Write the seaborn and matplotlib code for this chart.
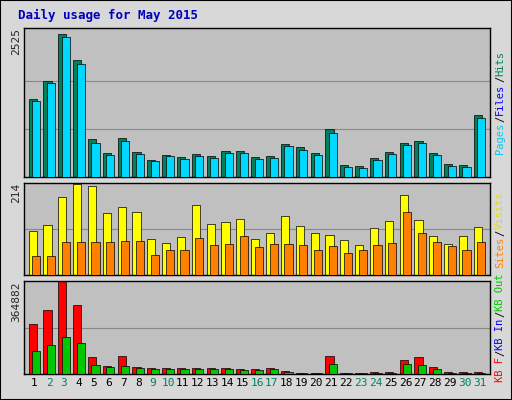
import matplotlib
matplotlib.use("Agg")
import matplotlib.pyplot as plt
import numpy as np
import seaborn as sns

sns.set_style("white")
plt.rcParams["font.family"] = ["DejaVu Sans Mono"]

days = np.arange(1, 32)
weekend = [2, 3, 9, 10, 16, 17, 23, 24, 30, 31]
hits = [1356, 1678, 2491, 2050, 660, 424, 678, 440, 305, 390, 356, 407, 373, 458, 458,
        356, 373, 576, 525, 424, 830, 203, 186, 339, 440, 593, 627, 424, 220, 203, 1085]
pages = [1320, 1640, 2440, 1980, 600, 380, 630, 410, 280, 360, 320, 370, 340, 420, 420,
         320, 340, 540, 480, 390, 760, 170, 160, 300, 400, 560, 590, 380, 190, 180, 1030]
visits = [102, 116, 181, 212, 207, 144, 158, 147, 84, 74, 88, 163, 119, 123, 130,
          84, 98, 137, 114, 98, 93, 81, 70, 109, 126, 186, 128, 91, 72, 91, 112]
sites = [44, 44, 77, 77, 77, 77, 79, 79, 47, 58, 58, 86, 70, 72, 91,
         65, 72, 72, 70, 58, 67, 51, 58, 70, 74, 147, 98, 77, 67, 58, 77]
kb_f = [194820, 251580, 364882, 271660, 64870, 32440, 68930, 28380, 24330, 24330, 24330,
        24330, 24330, 24330, 20270, 20270, 24330, 12160, 4050, 4050, 68930, 4050, 4050,
        8110, 8110, 56760, 64870, 28380, 8110, 8110, 8110]
kb_out = [89200, 113530, 145970, 121640, 36490, 28380, 32440, 24330, 20270, 20270, 20270,
          20270, 20270, 20270, 16220, 16220, 20270, 8110, 2030, 2030, 40550, 2030, 2030,
          4050, 4050, 40550, 36490, 20270, 4050, 4050, 4050]

W, H = 512, 400
fig = plt.figure(figsize=(W / 100, H / 100), dpi=100, facecolor="#d8d8d8")
fig.patches.append(plt.Rectangle((0, 0), 1, 1, transform=fig.transFigure,
                                 fill=False, edgecolor="black", lw=1.5))

def box(y0, y1):
    return [24 / W, 1 - y1 / H, (490 - 24) / W, (y1 - y0) / H]

def pair(ax, back, front, cback, cfront, top, lines):
    ax.set_facecolor("#c0c0c0")
    for v in lines:
        ax.axhline(v, color="#888888", lw=0.8, zorder=0)
    sns.barplot(x=days - 0.12, y=back, native_scale=True, width=0.55, color=cback,
                saturation=1, edgecolor="black", linewidth=0.5, ax=ax, zorder=2)
    sns.barplot(x=days + 0.12, y=front, native_scale=True, width=0.55, color=cfront,
                saturation=1, edgecolor="black", linewidth=0.5, ax=ax, zorder=3)
    ax.set_xlim(0.3, 31.7)
    ax.set_ylim(0, top)
    ax.set_xticks([])
    ax.set_yticks([])
    ax.set_xlabel("")
    ax.set_ylabel("")
    for s in ax.spines.values():
        s.set_color("black")
        s.set_linewidth(1)

ax1 = fig.add_axes(box(28, 177))
pair(ax1, hits, pages, "#00805c", "#00d8ff", 2525 * 1.03, [2525 / 3, 2525 * 2 / 3])
ax2 = fig.add_axes(box(183, 275))
pair(ax2, visits, sites, "#ffff00", "#ff8000", 214 * 1.0, [107])
ax3 = fig.add_axes(box(281, 374))
pair(ax3, kb_f, kb_out, "#ff0000", "#00c800", 364882 * 1.0, [364882 / 2])

ax3.set_xticks(days)
ax3.set_xticklabels([str(d) for d in days], fontsize=8)
for lab, d in zip(ax3.get_xticklabels(), days):
    lab.set_color("#008060" if d in weekend else "black")
ax3.tick_params(axis="x", length=0, pad=3)

fig.text(18 / W, 1 - 15 / H, "Daily usage for May 2015", color="#0000c0",
         fontsize=9, fontweight="bold", va="center")
for y, t in [(28, "2525"), (183, "214"), (281, "364882")]:
    fig.text(16 / W, 1 - y / H, t, rotation=90, ha="center", va="top", fontsize=8)

def right_label(yc, parts):
    y = 1 - yc / H
    total = sum(len(p) for p, _ in parts)
    step = 6.5 / H
    y -= total * step / 2
    for text, col in parts:
        fig.text(500 / W, y, text, rotation=90, ha="center", va="bottom",
                 color=col, fontsize=7.5)
        y += len(text) * step

right_label(102, [("Pages", "#00c8f0"), ("/", "black"), ("Files", "#0000ff"),
                  ("/", "black"), ("Hits", "#00805c")])
right_label(229, [("Sites", "#ff8000"), ("/", "black"), ("Visits", "#e0e000")])
right_label(327, [("KB F", "#ff0000"), ("/", "black"), ("KB In", "#0000ff"),
                  ("/", "black"), ("KB Out", "#00c800")])

fig.savefig("out.png", dpi=100, facecolor=fig.get_facecolor())
